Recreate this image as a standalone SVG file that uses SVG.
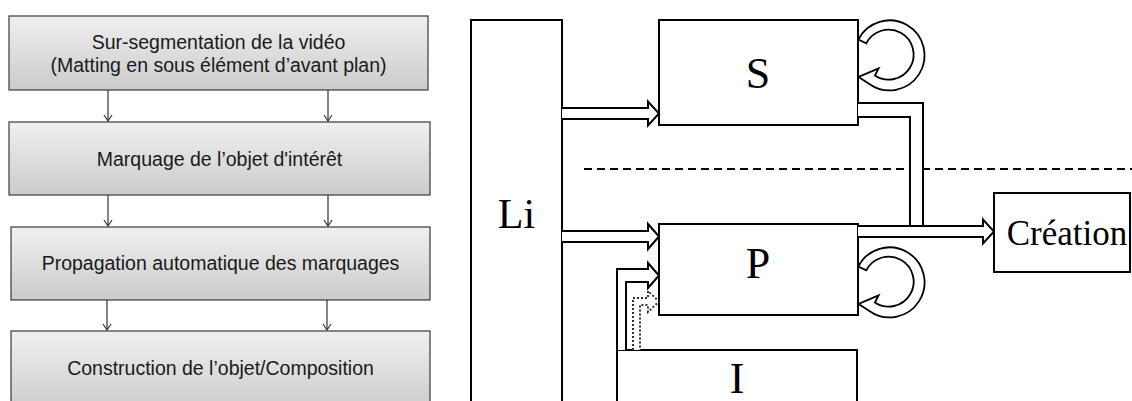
<svg xmlns="http://www.w3.org/2000/svg" width="1132" height="401" viewBox="0 0 1132 401">
<style>
.step{stroke:#3a3a3a;stroke-width:1.2;fill:url(#g)}
.st{font-family:"Liberation Sans",Arial,sans-serif;font-size:19.5px;fill:#1a1a1a;text-anchor:middle}
.fl{stroke:#333;stroke-width:1.2;fill:none}
.box{fill:#fff;stroke:#000;stroke-width:2}
.lb{font-family:"Liberation Serif","Times New Roman",serif;fill:#000;text-anchor:middle}
.dbl{fill:#fff;stroke:#000;stroke-width:2;stroke-linejoin:miter}
.dot{fill:#fff;stroke:#333;stroke-width:2;stroke-dasharray:2 2}
.loop{fill:#fff;stroke:#000;stroke-width:1.8}
</style>
<defs>
<linearGradient id="g" x1="0" y1="0" x2="0" y2="1">
<stop offset="0" stop-color="#f0f0f0"/>
<stop offset="1" stop-color="#cbcbcb"/>
</linearGradient>
<marker id="v" markerWidth="10" markerHeight="10" refX="8.5" refY="5" orient="auto" markerUnits="userSpaceOnUse" viewBox="0 0 10 10">
<path d="M2.5,1 L8.5,5 L2.5,9" fill="none" stroke="#333" stroke-width="1.2"/>
</marker>
</defs>

<g id="step1"><rect class="step" x="9" y="16" width="419" height="74"/>
<text class="st" x="218.5" y="49">Sur-segmentation de la vidéo</text>
<text class="st" x="218.5" y="72">(Matting en sous élément d’avant plan)</text></g>
<g id="step2"><rect class="step" x="9" y="122" width="421" height="73"/>
<text class="st" x="219.5" y="166">Marquage de l’objet d'intérêt</text></g>
<g id="step3"><rect class="step" x="11" y="227" width="419" height="73"/>
<text class="st" x="220.5" y="270">Propagation automatique des marquages</text></g>
<g id="step4"><rect class="step" x="11" y="331" width="419" height="80"/>
<text class="st" x="220.5" y="375">Construction de l’objet/Composition</text></g>

<g id="Li"><rect class="box" x="471" y="20" width="91" height="400"/>
<text class="lb" x="516.5" y="228" font-size="42">Li</text></g>
<g id="S"><rect class="box" x="659" y="20" width="199" height="105"/>
<text class="lb" x="758" y="88" font-size="44">S</text></g>
<g id="P"><rect class="box" x="659" y="224" width="199" height="91"/>
<text class="lb" x="758" y="278" font-size="44">P</text></g>
<g id="I"><rect class="box" x="617" y="350" width="240" height="70"/>
<text class="lb" x="737" y="393" font-size="44">I</text></g>
<g id="Creation"><rect class="box" x="994" y="193" width="136" height="79"/>
<text class="lb" x="1067" y="245" font-size="35">Création</text></g>

<g id="connectors">
<line x1="584" y1="169" x2="1132" y2="169" stroke="#000" stroke-width="2" stroke-dasharray="8 5"/>
<line class="fl" x1="108" y1="90" x2="108" y2="121" marker-end="url(#v)"/>
<line class="fl" x1="328" y1="90" x2="328" y2="121" marker-end="url(#v)"/>
<line class="fl" x1="108" y1="195" x2="108" y2="226" marker-end="url(#v)"/>
<line class="fl" x1="328" y1="195" x2="328" y2="226" marker-end="url(#v)"/>
<line class="fl" x1="107" y1="300" x2="107" y2="330" marker-end="url(#v)"/>
<line class="fl" x1="327" y1="300" x2="327" y2="330" marker-end="url(#v)"/>

<path class="dbl" d="M562,108 L648,108 L648,101.5 L659,113.5 L648,125.5 L648,119 L562,119"/>
<path class="dbl" d="M562,231 L648,231 L648,224 L659,236.5 L648,249 L648,242 L562,242"/>
<path class="dbl" d="M617,350 L617,269 L648,269 L648,263 L659,275.5 L648,288 L648,282 L626,282 L626,350"/>
<path class="dot" d="M633,350 L633,298 L648,298 L648,291 L659,301.5 L648,312 L648,305 L640,305 L640,350"/>
<path class="dbl" d="M858,103 L923,103 L923,226 L910,226 L910,117 L858,117"/>
<path class="dbl" d="M858,226 L983,226 L983,219.5 L994,231.5 L983,243.5 L983,237 L858,237"/>

<path class="loop" d="M858.3,39.6 A35,35 0 1 1 869,83.7 L858.5,77 L878.6,68.3 L874.9,75.5 A25,25 0 1 0 866.3,43.4 Z"/>
<path class="loop" d="M858.3,266.6 A35,35 0 1 1 869,310.7 L858.5,304 L878.6,295.3 L874.9,302.5 A25,25 0 1 0 866.3,270.4 Z"/>
</g>
</svg>
